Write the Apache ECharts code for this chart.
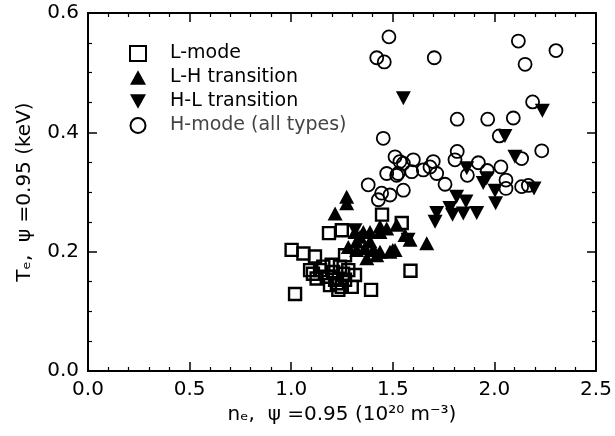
<!DOCTYPE html>
<html>
<head>
<meta charset="utf-8">
<script src="https://cdn.jsdelivr.net/npm/echarts@6/dist/echarts.min.js"></script>
<style>html,body{margin:0;padding:0;background:#fff}#c{width:615px;height:436px}</style>
</head>
<body>
<div id="c"></div>
<script>
// ---- data (n_e [1e20 m^-3], T_e [keV]) ----
const seriesNames = ['L-mode', 'L-H transition', 'H-L transition', 'H-mode (all types)'];
const xTicks = [0.0, 0.5, 1.0, 1.5, 2.0, 2.5];
const yTicks = [0.0, 0.2, 0.4, 0.6];
const xTitle = 'n\u2091,  \u03c8 =0.95 (10\u00b2\u2070 m\u207b\u00b3)';
const yTitle = 'T\u2091,  \u03c8 =0.95 (keV)';

const lMode = [
  [1.002,0.203],[1.060,0.197],[1.117,0.192],[1.019,0.129],[1.393,0.136],[1.587,0.168],
  [1.093,0.169],[1.107,0.163],[1.158,0.175],[1.199,0.178],[1.240,0.175],[1.281,0.169],
  [1.314,0.161],[1.125,0.155],[1.175,0.158],[1.216,0.153],[1.265,0.153],[1.191,0.144],
  [1.249,0.141],[1.298,0.141],[1.232,0.136],[1.186,0.231],[1.249,0.236],[1.447,0.262],
  [1.544,0.248],[1.265,0.194],[1.142,0.169],[1.206,0.166],[1.255,0.163],[1.225,0.147]
];
const lhTransition = [
  [1.273,0.292],[1.273,0.281],[1.216,0.264],[1.314,0.233],[1.339,0.225],[1.355,0.233],
  [1.388,0.233],[1.437,0.233],[1.470,0.239],[1.519,0.245],[1.560,0.228],[1.585,0.220],
  [1.281,0.208],[1.322,0.203],[1.363,0.206],[1.404,0.203],[1.437,0.200],[1.486,0.200],
  [1.511,0.203],[1.421,0.194],[1.372,0.189],[1.322,0.217],[1.388,0.217],[1.667,0.214],
  [1.437,0.242],[1.500,0.203]
];
const hlTransition = [
  [1.552,0.457],[2.236,0.436],[2.052,0.394],[2.101,0.359],[1.864,0.340],[1.962,0.323],
  [1.945,0.315],[2.003,0.302],[2.195,0.306],[2.006,0.281],[1.814,0.292],[1.781,0.273],
  [1.860,0.284],[1.847,0.264],[1.913,0.265],[1.716,0.265],[1.708,0.250],[1.794,0.262],
  [1.314,0.236],[1.575,0.220]
];
const hMode = [
  [1.481,0.560],[1.421,0.525],[1.458,0.518],[1.704,0.525],[2.118,0.553],[2.303,0.537],
  [2.151,0.514],[2.188,0.451],[1.817,0.422],[1.967,0.422],[2.093,0.424],[1.453,0.390],
  [2.024,0.394],[2.233,0.369],[2.134,0.356],[1.817,0.368],[1.806,0.354],[1.867,0.328],
  [1.921,0.349],[1.965,0.336],[2.032,0.342],[2.057,0.320],[2.057,0.306],[2.134,0.309],
  [2.167,0.311],[1.757,0.313],[1.511,0.359],[1.535,0.351],[1.601,0.354],[1.699,0.351],
  [1.470,0.331],[1.526,0.331],[1.593,0.334],[1.650,0.337],[1.683,0.342],[1.716,0.331],
  [1.552,0.303],[1.486,0.295],[1.445,0.298],[1.379,0.312],[1.429,0.287],[1.519,0.328],
  [1.552,0.348]
];

const FONT = 'DejaVu Sans';
const downTri = 'path://M0,0 L10,0 L5,9 Z';
const upTri = 'path://M5,0 L10,9 L0,9 Z';

function xAxisBase() {
  return {
    type: 'value', min: xTicks[0], max: xTicks[xTicks.length - 1], interval: 0.5,
    axisLine: {show: true, onZero: false, lineStyle: {color: '#000', width: 2}},
    axisTick: {show: true, inside: true, length: 9, lineStyle: {color: '#000', width: 1.5}},
    minorTick: {show: true, splitNumber: 5, length: 4, lineStyle: {color: '#000', width: 1.2}},
    splitLine: {show: false}
  };
}
function yAxisBase() {
  return {
    type: 'value', min: yTicks[0], max: yTicks[yTicks.length - 1], interval: 0.2,
    axisLine: {show: true, onZero: false, lineStyle: {color: '#000', width: 2}},
    axisTick: {show: true, inside: true, length: 9, lineStyle: {color: '#000', width: 1.5}},
    minorTick: {show: true, splitNumber: 4, length: 4, lineStyle: {color: '#000', width: 1.2}},
    splitLine: {show: false}
  };
}

const xBottom = Object.assign(xAxisBase(), {
  position: 'bottom',
  axisLabel: {show: true, margin: 9, fontFamily: FONT, fontSize: 20, color: '#000',
    formatter: v => v.toFixed(1)},
  name: xTitle, nameLocation: 'middle', nameGap: 31,
  nameTextStyle: {fontFamily: FONT, fontSize: 20, color: '#000'}
});
const xTop = Object.assign(xAxisBase(), {position: 'top', axisLabel: {show: false}});
const yLeft = Object.assign(yAxisBase(), {
  position: 'left',
  axisLabel: {show: true, margin: 9, fontFamily: FONT, fontSize: 20, color: '#000',
    formatter: v => v.toFixed(1)},
  name: yTitle, nameLocation: 'middle', nameGap: 53, nameRotate: 90,
  nameTextStyle: {fontFamily: FONT, fontSize: 20, color: '#000'}
});
const yRight = Object.assign(yAxisBase(), {position: 'right', axisLabel: {show: false}});

const chart = echarts.init(document.getElementById('c'));
chart.setOption({
  animation: false,
  grid: {left: 88, right: 19, top: 13, bottom: 65},
  legend: {
    orient: 'vertical', left: 124, top: 38, itemGap: 3, itemWidth: 16, itemHeight: 15,
    formatter: n => '\u2002\u2002' + n,
    textStyle: {fontFamily: FONT, fontSize: 19, color: '#000', lineHeight: 21},
    data: [
      {name: seriesNames[0]},
      {name: seriesNames[1]},
      {name: seriesNames[2]},
      {name: seriesNames[3], textStyle: {color: '#444'}}
    ]
  },
  xAxis: [xBottom, xTop],
  yAxis: [yLeft, yRight],
  series: [
    {name: seriesNames[0], type: 'scatter', data: lMode, symbol: 'rect', symbolSize: 12,
      itemStyle: {color: 'rgba(255,255,255,0)', borderColor: '#000', borderWidth: 2.4, opacity: 1}},
    {name: seriesNames[1], type: 'scatter', data: lhTransition, symbol: upTri, symbolSize: [15, 14],
      itemStyle: {color: '#000', opacity: 1}},
    {name: seriesNames[2], type: 'scatter', data: hlTransition, symbol: downTri, symbolSize: [15, 14],
      itemStyle: {color: '#000', opacity: 1}},
    {name: seriesNames[3], type: 'scatter', data: hMode, symbol: 'circle', symbolSize: 13,
      itemStyle: {color: 'rgba(255,255,255,0)', borderColor: '#000', borderWidth: 1.8, opacity: 1}}
  ]
});
</script>
</body>
</html>
